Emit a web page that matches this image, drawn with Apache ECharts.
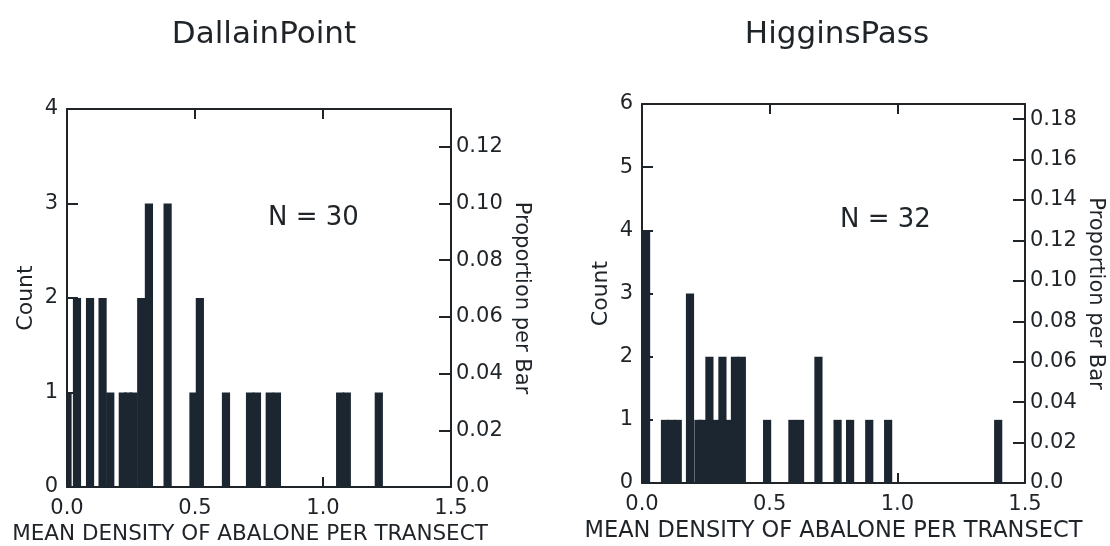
<!DOCTYPE html>
<html>
<head>
<meta charset="utf-8">
<script src="https://cdn.jsdelivr.net/npm/echarts@6/dist/echarts.min.js"></script>
<style>
  html, body { margin: 0; padding: 0; background: #ffffff; }
  #chart { width: 1110px; height: 546px; }
</style>
</head>
<body>
<div id="chart"></div>
<script>
// ---- data ----
const titles = ['DallainPoint', 'HigginsPass'];
const sampleSizes = [30, 32];
const xTicks = [0, 0.5, 1.0, 1.5];
const countMax = [4, 6];

// DallainPoint: bar positions (mean density) and counts
const dallainValues = [0.002, 0.039, 0.090, 0.139, 0.169, 0.218, 0.239, 0.260, 0.290, 0.320,
                       0.393, 0.494, 0.519, 0.621, 0.715, 0.742, 0.792, 0.820, 1.067, 1.093, 1.218];
const dallainCounts = [1, 2, 2, 2, 1, 1, 1, 1, 2, 3,
                       3, 1, 2, 1, 1, 1, 1, 1, 1, 1, 1];

// HigginsPass: bar positions (mean density) and counts
const higginsValues = [0.016, 0.090, 0.115, 0.140, 0.188, 0.221, 0.237, 0.264, 0.290, 0.315,
                       0.339, 0.364, 0.391, 0.490, 0.589, 0.619, 0.691, 0.766, 0.815, 0.890,
                       0.964, 1.395];
const higginsCounts = [4, 1, 1, 1, 3, 1, 1, 2, 1, 2,
                       1, 2, 2, 1, 1, 1, 2, 1, 1, 1,
                       1, 1];

// ---- styling ----
const FONT = 'DejaVu Sans';
const INK = '#1f2429';
const BAR_COLOR = '#1b2630';
const BAR_W = 0.032;

const chart = echarts.init(document.getElementById('chart'), null, { renderer: 'canvas' });

function renderBar(params, api) {
  const x = api.value(0), c = api.value(1);
  const p0 = api.coord([x - BAR_W / 2, 0]);
  const p1 = api.coord([x + BAR_W / 2, c]);
  const cs = params.coordSys;
  const rect = echarts.graphic.clipRectByRect(
    { x: p0[0], y: p1[1], width: p1[0] - p0[0], height: p0[1] - p1[1] },
    { x: cs.x, y: cs.y, width: cs.width, height: cs.height }
  );
  return rect && { type: 'rect', shape: rect, style: { fill: BAR_COLOR } };
}

const grids = [
  { left: 67, top: 109, width: 384, height: 378 },
  { left: 642, top: 104, width: 383, height: 379 }
];
const nameShift = [[0, 18, 0, 0], [0, 0, 0, 0]];
const nameSize = [21.5, 22.5];
const nameGaps = [28, 31];

const axisLine = { show: true, onZero: false, lineStyle: { color: INK, width: 2 } };
const lbl = { color: INK, fontFamily: FONT, fontSize: 21 };

const xAxes = [], yAxes = [];
grids.forEach((g, i) => {
  xAxes.push({
    type: 'value', gridIndex: i, position: 'bottom', min: 0, max: 1.5, interval: 0.5,
    axisLine, splitLine: { show: false },
    axisTick: { show: true, inside: true, length: 10, lineStyle: { color: INK, width: 2 } },
    axisLabel: { ...lbl, margin: 11, formatter: v => v.toFixed(1) },
    name: 'MEAN DENSITY OF ABALONE PER TRANSECT', nameLocation: 'middle', nameGap: nameGaps[i],
    nameTextStyle: { color: INK, fontFamily: FONT, fontSize: nameSize[i], padding: nameShift[i] }
  });
  xAxes.push({
    type: 'value', gridIndex: i, position: 'top', min: 0, max: 1.5, interval: 0.5,
    axisLine, splitLine: { show: false },
    axisTick: { show: true, inside: true, length: 10, lineStyle: { color: INK, width: 2 } },
    axisLabel: { show: false }
  });
  const n = sampleSizes[i];
  yAxes.push({
    type: 'value', gridIndex: i, position: 'left', min: 0, max: countMax[i], interval: 1,
    axisLine, splitLine: { show: false },
    axisTick: { show: true, inside: true, length: 11, lineStyle: { color: INK, width: 2 } },
    axisLabel: { ...lbl, margin: 9 },
    name: 'Count', nameLocation: 'middle', nameGap: 30, nameRotate: 90,
    nameTextStyle: { color: INK, fontFamily: FONT, fontSize: 22 }
  });
  yAxes.push({
    type: 'value', gridIndex: i, position: 'right', min: 0, max: countMax[i] / n, interval: 0.02,
    axisLine, splitLine: { show: false },
    axisTick: { show: true, inside: true, length: 12, lineStyle: { color: INK, width: 2 } },
    axisLabel: {
      ...lbl, margin: 5, showMaxLabel: false,
      formatter: v => {
        if (v === 0) return '0.0';
        const k = v / 0.02;
        return Math.abs(k - Math.round(k)) < 1e-6 ? v.toFixed(2) : '';
      }
    },
    name: 'Proportion per Bar', nameLocation: 'middle', nameGap: 60, nameRotate: -90,
    nameTextStyle: { color: INK, fontFamily: FONT, fontSize: 21 }
  });
});

const option = {
  backgroundColor: '#ffffff',
  animation: false,
  title: [
    { text: titles[0], left: 259, top: 14, textAlign: 'center',
      textStyle: { color: INK, fontFamily: FONT, fontSize: 31, fontWeight: 'normal' } },
    { text: titles[1], left: 832, top: 14, textAlign: 'center',
      textStyle: { color: INK, fontFamily: FONT, fontSize: 31, fontWeight: 'normal' } }
  ],
  grid: grids.map(g => ({ ...g, outerBoundsMode: 'none', containLabel: false })),
  xAxis: xAxes,
  yAxis: yAxes,
  graphic: [
    { type: 'text', left: 268, top: 205,
      style: { text: 'N = ' + sampleSizes[0], fill: INK, font: '26px "DejaVu Sans"' } },
    { type: 'text', left: 840, top: 207,
      style: { text: 'N = ' + sampleSizes[1], fill: INK, font: '26px "DejaVu Sans"' } }
  ],
  series: [
    { type: 'custom', xAxisIndex: 0, yAxisIndex: 0, renderItem: renderBar, clip: true,
      encode: { x: 0, y: 1 },
      data: dallainValues.map((v, i) => [v, dallainCounts[i]]) },
    { type: 'custom', xAxisIndex: 2, yAxisIndex: 2, renderItem: renderBar, clip: true,
      encode: { x: 0, y: 1 },
      data: higginsValues.map((v, i) => [v, higginsCounts[i]]) }
  ]
};
chart.setOption(option);
</script>
</body>
</html>
